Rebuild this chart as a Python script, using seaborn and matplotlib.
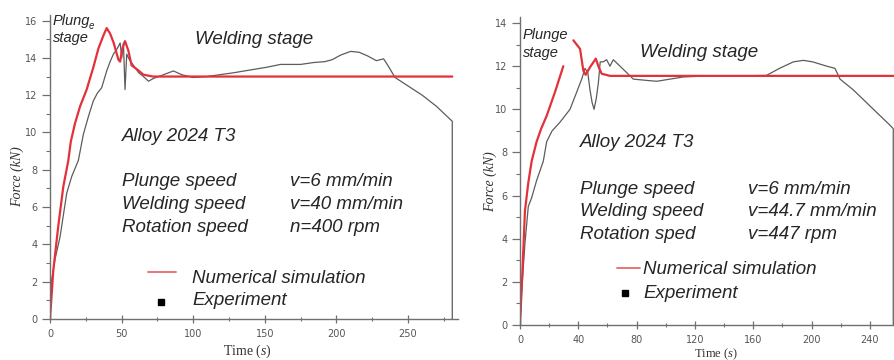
import matplotlib
matplotlib.use("Agg")
import matplotlib.pyplot as plt
import seaborn as sns
from matplotlib.lines import Line2D
from matplotlib.ticker import MultipleLocator

# ---------------- data ----------------
# Left panel: v=40 mm/min, n=400 rpm
sim1_t = [0, 2.3, 5.8, 9.3, 12.8, 14.5, 17.5, 21, 25.6, 30.3, 33.8, 37.3, 39.6, 42,
          44.5, 47.8, 49, 50.5, 52.4, 54.7, 57, 60.6, 65.3, 72, 100, 281]
sim1_F = [0, 2.6, 5.0, 7.1, 8.5, 9.5, 10.5, 11.4, 12.3, 13.5, 14.5, 15.2, 15.6, 15.3,
          14.8, 13.9, 13.8, 14.5, 14.9, 14.4, 13.6, 13.4, 13.1, 13.0, 13.0, 13.0]

exp1_t = [0, 1.2, 3.5, 7, 11.7, 15.2, 19.8, 23.3, 27, 30.3, 33, 36.1, 39.6, 42, 44.3,
          47, 49, 50.1, 51.3, 52.4, 53.6, 55.5, 58.3, 62, 65.3, 68.8, 72.3, 79.3, 86.2,
          92, 100, 109.5, 128, 151.5, 161, 175, 184, 192, 197, 203, 210, 216, 222, 228,
          233, 236, 241, 250, 260, 270, 281, 281]
exp1_F = [0, 2.1, 3.2, 4.4, 6.75, 7.65, 8.5, 9.9, 10.9, 11.7, 12.1, 12.4, 13.3, 13.8, 14.2,
          14.5, 14.8, 14.0, 14.8, 12.3, 14.2, 13.9, 13.6, 13.2, 13.0, 12.75, 12.9, 13.1, 13.3,
          13.1, 12.95, 13.0, 13.2, 13.5, 13.65, 13.65, 13.75, 13.8, 13.9, 14.15, 14.35, 14.3,
          14.1, 13.85, 13.95, 13.6, 12.95, 12.5, 12.0, 11.4, 10.6, 0]

# Right panel: v=44.7 mm/min, 447 rpm
sim2_rise_t = [0, 1.8, 3.4, 5.7, 8, 11.4, 14.5, 18.3, 24, 29.7]
sim2_rise_F = [0, 2.7, 5.3, 6.6, 7.6, 8.5, 9.1, 9.7, 10.8, 12.0]
sim2_weld_t = [36.6, 38.9, 41.2, 43.4, 45, 48, 50, 52, 54, 56, 61.7, 70, 256.5]
sim2_weld_F = [13.2, 13.0, 12.8, 11.8, 11.6, 11.95, 12.15, 12.35, 11.95, 11.65, 11.55, 11.55, 11.55]

exp2_t = [0, 1.1, 3.4, 5.7, 8, 11.4, 16, 18.3, 22, 27.4, 34.3, 38.9, 42.3, 44.6, 46.5, 48,
          49.5, 50.8, 52.3, 53.7, 55, 57.1, 59.4, 61.7, 64, 68.6, 73.2, 77.7, 86.9, 93.8,
          102.9, 112, 130, 150, 169, 178, 187.5, 194.3, 200.7, 210.4, 216, 219.5, 228.6,
          237.8, 247, 253.8, 256, 256]
exp2_F = [0, 1.5, 3.8, 5.5, 5.9, 6.7, 7.6, 8.5, 9.0, 9.4, 10.0, 10.8, 11.4, 11.9, 11.7, 10.9,
          10.3, 10.0, 10.5, 11.2, 12.2, 12.2, 12.3, 12.0, 12.3, 12.0, 11.7, 11.4, 11.34, 11.3,
          11.4, 11.5, 11.55, 11.55, 11.57, 11.9, 12.2, 12.27, 12.2, 12.0, 11.9, 11.4, 10.9,
          10.3, 9.7, 9.26, 9.1, 0]

left_xticks = [0, 50, 100, 150, 200, 250]
left_yticks = [0, 2, 4, 6, 8, 10, 12, 14, 16]
right_xticks = [0, 40, 80, 120, 160, 200, 240]
right_yticks = [0, 2, 4, 6, 8, 10, 12, 14]

left_params = ["v=6 mm/min", "v=40 mm/min", "n=400 rpm"]
right_params = ["v=6 mm/min", "v=44.7 mm/min", "v=447 rpm"]
left_names = ["Plunge speed", "Welding speed", "Rotation speed"]
right_names = ["Plunge speed", "Welding speed", "Rotation sped"]

# ---------------- style ----------------
sns.set_style("ticks")
plt.rcParams["font.family"] = ["DejaVu Sans"]
plt.rcParams["mathtext.fontset"] = "custom"
plt.rcParams["mathtext.it"] = "Liberation Serif:italic"
plt.rcParams["mathtext.rm"] = "Liberation Serif"

RED = "#e4303a"
GRAY = "#5c5c5c"
TXT = "#262626"
W, H = 894, 360

fig = plt.figure(figsize=(W / 100, H / 100), dpi=100)


def ftext(px, py, s, size=13.5, family="Liberation Sans", style="italic", **kw):
    kw.setdefault("va", "baseline")
    kw.setdefault("ha", "left")
    fig.text(px / W, 1 - py / H, s, fontsize=size, family=family, style=style,
             color=kw.pop("color", TXT), **kw)


def style_axes(ax, xmax, ymax, xticks, yticks, xminor):
    ax.set_xlim(0, xmax)
    ax.set_ylim(0, ymax)
    ax.set_xticks(xticks)
    ax.set_yticks(yticks)
    ax.xaxis.set_minor_locator(MultipleLocator(xminor))
    ax.yaxis.set_minor_locator(MultipleLocator(1))
    sns.despine(ax=ax)
    for s in ("left", "bottom"):
        ax.spines[s].set_color("#707070")
        ax.spines[s].set_linewidth(1.0)
    ax.tick_params(axis="y", which="major", direction="out", length=6, width=0.9,
                   color="#707070", labelsize=7, labelcolor="#555555", pad=3)
    ax.tick_params(axis="y", which="minor", direction="out", length=3, width=0.8,
                   color="#707070")
    ax.tick_params(axis="x", which="major", direction="inout", length=6, width=0.9,
                   color="#707070", labelsize=7, labelcolor="#555555", pad=4)
    ax.tick_params(axis="x", which="minor", direction="inout", length=3, width=0.8,
                   color="#707070")
    ax.set_xlabel("")
    ax.set_ylabel("")
    ax.patch.set_alpha(0)


# ---------------- left panel ----------------
ax1 = fig.add_axes([50 / W, 41 / H, 408 / W, 304 / H])
sns.lineplot(x=exp1_t, y=exp1_F, ax=ax1, color=GRAY, lw=0.9, sort=False, estimator=None)
sns.lineplot(x=sim1_t, y=sim1_F, ax=ax1, color=RED, lw=1.6, sort=False, estimator=None)
style_axes(ax1, 285, 16.3, left_xticks, left_yticks, 25)

# ---------------- right panel ----------------
ax2 = fig.add_axes([520 / W, 35 / H, 374 / W, 308 / H])
sns.lineplot(x=exp2_t, y=exp2_F, ax=ax2, color=GRAY, lw=0.9, sort=False, estimator=None)
sns.lineplot(x=sim2_rise_t, y=sim2_rise_F, ax=ax2, color=RED, lw=1.6, sort=False, estimator=None)
sns.lineplot(x=sim2_weld_t, y=sim2_weld_F, ax=ax2, color=RED, lw=1.6, sort=False, estimator=None)
style_axes(ax2, 256.5, 14.28, right_xticks, right_yticks, 20)

# ---------------- annotations: left ----------------
ftext(53, 25, "Plung", size=10.5)
ftext(89, 29, "e", size=7)
ftext(53, 42, "stage", size=10.5)
ftext(195, 44, "Welding stage")
ftext(122, 141, "Alloy 2024 T3")
for i, (n, p) in enumerate(zip(left_names, left_params)):
    ftext(122, 186 + 23 * i, n)
    ftext(290, 186 + 23 * i, p)
fig.add_artist(Line2D([148 / W, 176 / W], [1 - 272 / H] * 2, color="#e86868", lw=1.3,
                      transform=fig.transFigure))
fig.add_artist(Line2D([161 / W], [1 - 302 / H], marker="s", ms=4.5, color="black", lw=0,
                      transform=fig.transFigure))
ftext(192, 283, "Numerical simulation")
ftext(192, 305, "Experiment")
fig.text(17 / W, 1 - 177 / H, "Force (kN)", rotation=90, fontsize=10,
         family="Liberation Serif", style="italic", color="#333333", ha="center", va="center")
fig.text(247 / W, 1 - 351 / H, "Time ($\\mathit{s}$)", fontsize=10,
         family="Liberation Serif", color="#333333", ha="center", va="center")

# ---------------- annotations: right ----------------
ftext(523, 39, "Plunge", size=10.5)
ftext(523, 57, "stage", size=10.5)
ftext(640, 57, "Welding stage")
ftext(580, 147, "Alloy 2024 T3")
for i, (n, p) in enumerate(zip(right_names, right_params)):
    ftext(580, 194 + 22.5 * i, n)
    ftext(748, 194 + 22.5 * i, p)
fig.add_artist(Line2D([617 / W, 640 / W], [1 - 268 / H] * 2, color="#e86868", lw=1.3,
                      transform=fig.transFigure))
fig.add_artist(Line2D([625 / W], [1 - 293 / H], marker="s", ms=4.5, color="black", lw=0,
                      transform=fig.transFigure))
ftext(643, 274, "Numerical simulation")
ftext(643, 298, "Experiment")
fig.text(490 / W, 1 - 182 / H, "Force (kN)", rotation=90, fontsize=10,
         family="Liberation Serif", style="italic", color="#333333", ha="center", va="center")
fig.text(716 / W, 1 - 354 / H, "Time ($\\mathit{s}$)", fontsize=9,
         family="Liberation Serif", color="#333333", ha="center", va="center")

fig.savefig("out.png", dpi=100)
